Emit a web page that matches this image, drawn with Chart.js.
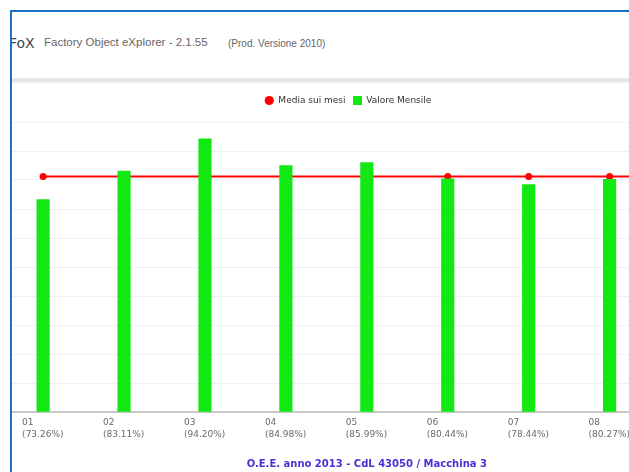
<!DOCTYPE html>
<html><head><meta charset="utf-8">
<script src="https://cdn.jsdelivr.net/npm/chart.js@4.4.0/dist/chart.umd.min.js"></script>
<style>
html,body{margin:0;padding:0;background:#fff;width:629px;height:472px;overflow:hidden;position:relative;font-family:'Liberation Sans',Arial,sans-serif}
#bt{position:absolute;left:10px;top:10px;width:619px;height:2px;background:#1a72c6;z-index:5}
#bl{position:absolute;left:10px;top:10px;width:2px;height:462px;background:#1a72c6;z-index:5}
.h{position:absolute;white-space:nowrap;line-height:1}
#fox{left:9px;top:36px;font-size:14px;color:#444;font-family:'DejaVu Sans',sans-serif}
#app{left:44px;top:37px;font-size:11.5px;color:#666}
#prod{left:228px;top:39px;font-size:10px;color:#666}
#sep{position:absolute;left:12px;top:78px;width:617px;height:5px;background:linear-gradient(#ededed,#e2e2e2 50%,#f3f3f3)}
#wrap{position:absolute;left:12px;top:84px;width:617px;height:388px;overflow:hidden}
#c{position:absolute;left:-51px;top:0}
</style></head>
<body>
<div id="bt"></div><div id="bl"></div>
<div class="h" id="fox">FoX</div>
<div class="h" id="app">Factory Object eXplorer - 2.1.55</div>
<div class="h" id="prod">(Prod. Versione 2010)</div>
<div id="sep"></div>
<div id="wrap"><canvas id="c" width="774" height="388"></canvas></div>
<script>
const months = ['01','02','03','04','05','06','07','08','09'];
const monthlyValues = [73.26, 83.11, 94.20, 84.98, 85.99, 80.44, 78.44, 80.27, null];
const monthlyMean = [81.2, 81.2, 81.2, 81.2, 81.2, 81.2, 81.2, 81.2, 81.2];
const yTicks = {min: 0, max: 100, step: 10};
const chartTitle = 'O.E.E. anno 2013 - CdL 43050 / Macchina 3';
const seriesNames = ['Media sui mesi', 'Valore Mensile'];
const tickLabels = months.map((m, i) => monthlyValues[i] == null ? [m] : [m, '(' + monthlyValues[i].toFixed(2) + '%)']);

const FONT = "'DejaVu Sans', Verdana, sans-serif";
const GREEN = '#12e812';

// 9x9 square marker for the bar legend entry
const sq = document.createElement('canvas');
sq.width = 9; sq.height = 9;
const sqx = sq.getContext('2d'); sqx.fillStyle = GREEN; sqx.fillRect(0, 0, 9, 9);

new Chart(document.getElementById('c'), {
  data: {
    labels: tickLabels,
    datasets: [
      {
        type: 'line', label: seriesNames[0], data: monthlyMean, order: 2,
        borderColor: '#ff0000', backgroundColor: '#ff0000', borderWidth: 2,
        pointRadius: 3.5, pointBackgroundColor: '#ff0000', pointBorderWidth: 0,
        pointStyle: 'circle', tension: 0, xAxisID: 'x'
      },
      {
        type: 'bar', label: seriesNames[1], data: monthlyValues, order: 1,
        backgroundColor: GREEN, borderWidth: 0, barThickness: 12.5,
        xAxisID: 'x'
      }
    ]
  },
  options: {
    responsive: false, animation: false, devicePixelRatio: 1,
    layout: {padding: {top: 5, left: 0, right: 0, bottom: 0}},
    plugins: {
      tooltip: {enabled: false},
      title: {display: false},
      legend: {
        display: true, position: 'top',
        labels: {
          usePointStyle: true, boxHeight: 6.5, pointStyleWidth: 9.2, padding: 7,
          color: '#333', font: {family: FONT, size: 9},
          sort: (a, b) => a.datasetIndex - b.datasetIndex,
          generateLabels: (chart) => {
            const items = Chart.defaults.plugins.legend.labels.generateLabels(chart);
            items.forEach(it => {
              it.lineWidth = 0;
              it.pointStyle = it.datasetIndex === 1 ? sq : 'circle';
            });
            return items;
          }
        }
      }
    },
    scales: {
      x: {
        type: 'category', position: 'bottom', offset: true,
        grid: {display: false, drawTicks: false},
        border: {display: true, color: '#c8c8c8', width: 2},
        ticks: {
          align: 'start', labelOffset: -21, padding: 5, maxRotation: 0, autoSkip: false,
          color: '#6a6a6a', font: {family: FONT, size: 9, lineHeight: 1.3}
        },
        title: {
          display: true, text: chartTitle, color: '#4a30d2',
          font: {family: FONT, size: 10, weight: 'bold', lineHeight: 1.2},
          padding: {top: 0, bottom: 1.5}
        },
        afterFit: (s) => { s.height = 60; }
      },
      xTop: {
        type: 'category', position: 'top', display: true,
        grid: {display: false, drawTicks: false}, border: {display: false},
        ticks: {display: false},
        afterFit: (s) => { s.height = 7; }
      },
      y: {
        position: 'left', min: yTicks.min, max: yTicks.max,
        grid: {color: '#edf1f7', lineWidth: 1, drawTicks: false},
        border: {display: false},
        ticks: {display: false, stepSize: yTicks.step},
        afterFit: (s) => { s.width = 41.65; }
      }
    }
  }
});
</script>
</body></html>
